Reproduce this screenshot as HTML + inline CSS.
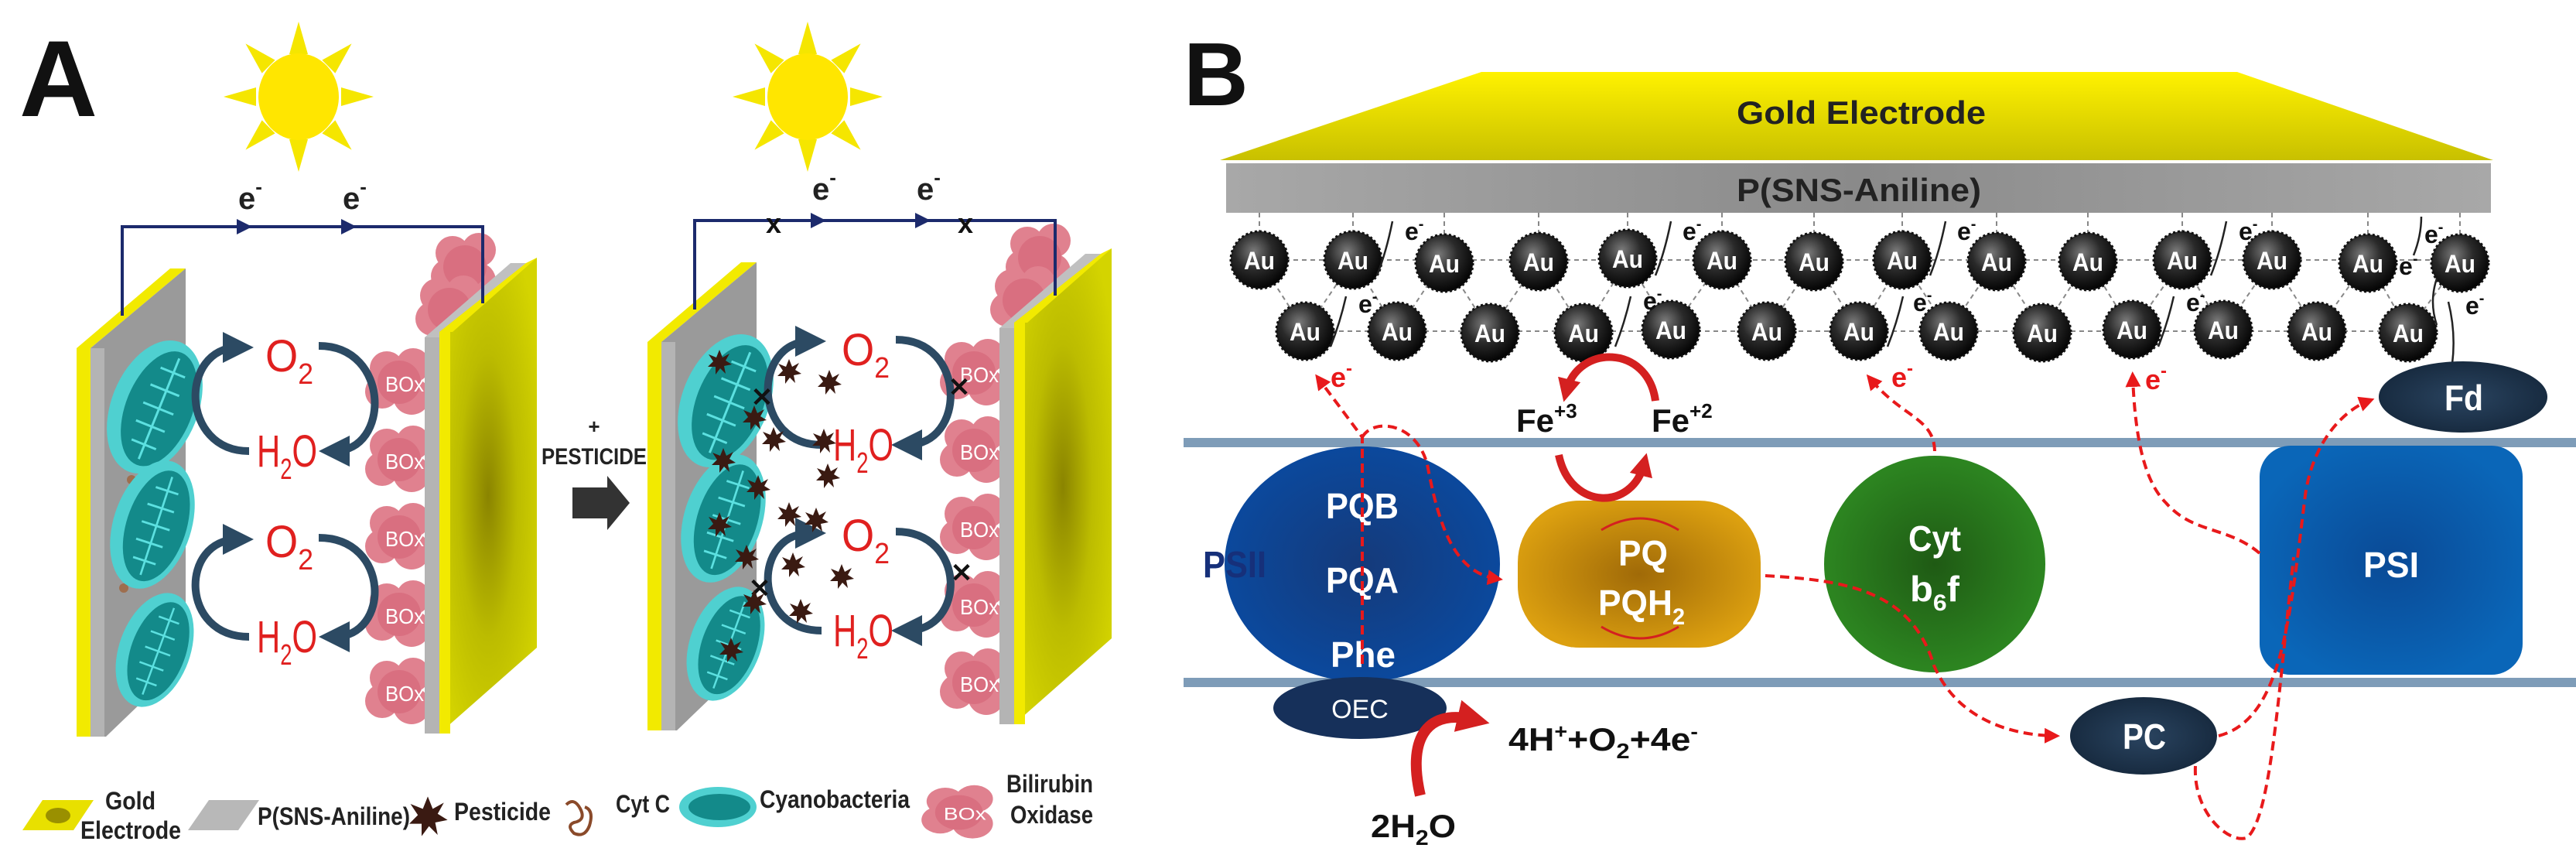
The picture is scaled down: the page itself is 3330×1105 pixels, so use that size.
<!DOCTYPE html>
<html><head><meta charset="utf-8"><style>
html,body{margin:0;padding:0;background:#fff;}
svg{display:block;}
.n{font-family:"Liberation Sans",sans-serif;font-weight:bold;}
</style></head><body>
<svg width="3330" height="1105" viewBox="0 0 3330 1105" xmlns="http://www.w3.org/2000/svg">
<defs>
<radialGradient id="gold" cx="50%" cy="50%" r="60%"><stop offset="0" stop-color="#8a8400"/><stop offset="0.5" stop-color="#bcbc00"/><stop offset="1" stop-color="#d4d400"/></radialGradient>
<linearGradient id="goldB" x1="0" y1="0" x2="0" y2="1"><stop offset="0" stop-color="#fff200"/><stop offset="1" stop-color="#c8c000"/></linearGradient>
<linearGradient id="greyB" x1="0" y1="0" x2="1" y2="0"><stop offset="0" stop-color="#a8a8a8"/><stop offset="0.5" stop-color="#8a8a8a"/><stop offset="1" stop-color="#a8a8a8"/></linearGradient>
<radialGradient id="au" cx="40%" cy="35%" r="65%"><stop offset="0" stop-color="#7a7a7a"/><stop offset="0.5" stop-color="#2a2a2a"/><stop offset="1" stop-color="#050505"/></radialGradient>
<radialGradient id="psii" cx="50%" cy="50%" r="55%"><stop offset="0" stop-color="#153a7a"/><stop offset="1" stop-color="#0a4aa0"/></radialGradient>
<radialGradient id="pq" cx="50%" cy="50%" r="55%"><stop offset="0" stop-color="#a06a08"/><stop offset="1" stop-color="#dca010"/></radialGradient>
<radialGradient id="cyt" cx="50%" cy="50%" r="55%"><stop offset="0" stop-color="#1f5a14"/><stop offset="1" stop-color="#2e8a22"/></radialGradient>
<radialGradient id="psi" cx="50%" cy="50%" r="55%"><stop offset="0" stop-color="#0a4a96"/><stop offset="1" stop-color="#0a66b8"/></radialGradient>
<radialGradient id="dk" cx="50%" cy="50%" r="60%"><stop offset="0" stop-color="#2a4460"/><stop offset="1" stop-color="#14263a"/></radialGradient>
<marker id="ah" markerWidth="4" markerHeight="4" refX="2" refY="2" orient="auto" markerUnits="strokeWidth"><path d="M0,0 L4,2 L0,4 z" fill="#2c4a63"/></marker>
<marker id="rh" markerWidth="5" markerHeight="5" refX="3" refY="2.5" orient="auto" markerUnits="strokeWidth"><path d="M0,0 L5,2.5 L0,5 z" fill="#e8191b"/></marker>
<marker id="rh2" markerWidth="3" markerHeight="3" refX="1.5" refY="1.5" orient="auto" markerUnits="strokeWidth"><path d="M0,0 L3,1.5 L0,3 z" fill="#d42020"/></marker>
<g id="sun"><g fill="#f5e600"><polygon points="-12,-55 12,-55 0,-97"/><polygon points="-12,55 12,55 0,97"/><polygon points="-55,-12 -55,12 -97,0"/><polygon points="55,-12 55,12 97,0"/><g transform="rotate(45)"><polygon points="-12,-55 12,-55 0,-97"/><polygon points="-12,55 12,55 0,97"/><polygon points="-55,-12 -55,12 -97,0"/><polygon points="55,-12 55,12 97,0"/></g></g><ellipse cx="0" cy="0" rx="52" ry="56" fill="#ffe600"/></g>
<g id="cb"><ellipse cx="0" cy="0" rx="56" ry="90" fill="#4fd0d0"/><ellipse cx="6" cy="0" rx="43" ry="78" fill="#138a8a"/><path d="M6,-70 v140 M-12,-50 h34 M-16,-25 h40 M-16,0 h42 M-16,25 h40 M-12,50 h34" stroke="#5ce0e0" stroke-width="3" fill="none"/></g>
<g id="cloud"><circle cx="-20" cy="-18" r="22" fill="#e0818f"/><circle cx="14" cy="-22" r="22" fill="#e0818f"/><circle cx="-26" cy="12" r="22" fill="#e0818f"/><circle cx="12" cy="18" r="24" fill="#e0818f"/><circle cx="-4" cy="0" r="28" fill="#d96f80"/></g>
<g id="box"><use href="#cloud"/><text x="-22" y="12" font-family="Liberation Sans,sans-serif" font-size="28" fill="#fff" textLength="50" lengthAdjust="spacingAndGlyphs">BOx</text></g>
<g id="pest"><polygon points="0,-16 4,-6 13,-11 8,-2 16,3 6,5 8,15 1,8 -5,16 -5,6 -15,6 -8,-1 -14,-10 -4,-6" fill="#3a1a12"/></g>
<g id="au1"><circle r="37" fill="url(#au)" stroke="#111" stroke-width="3" stroke-dasharray="3 3"/><text x="0" y="12" text-anchor="middle" class="n" font-size="32" fill="#fff" textLength="40" lengthAdjust="spacingAndGlyphs">Au</text></g>
<g id="labels" font-family="Liberation Sans,sans-serif" fill="#e0201f" font-size="58">
<text x="343" y="480" textLength="62" lengthAdjust="spacingAndGlyphs">O<tspan dy="16" font-size="38">2</tspan></text>
<text x="332" y="603" textLength="78" lengthAdjust="spacingAndGlyphs">H<tspan dy="16" font-size="38">2</tspan><tspan dy="-16">O</tspan></text>
<text x="343" y="720" textLength="62" lengthAdjust="spacingAndGlyphs">O<tspan dy="16" font-size="38">2</tspan></text>
<text x="332" y="843" textLength="78" lengthAdjust="spacingAndGlyphs">H<tspan dy="16" font-size="38">2</tspan><tspan dy="-16">O</tspan></text>
</g>
</defs>

<!-- Panel A -->
<text x="25" y="150" font-family="Liberation Sans,sans-serif" font-weight="bold" font-size="140" fill="#111">A</text>
<use href="#sun" x="386" y="125"/>
<use href="#sun" x="1044" y="125"/>

<g>
<polygon points="99,450 220,347 240,347 117,450" fill="#f2ea00"/>
<rect x="99" y="450" width="18" height="502" fill="#f2ea00"/>
<polygon points="117,450 240,347 240,853 137,952 117,952" fill="#9a9a9a"/>
<rect x="117" y="450" width="18" height="502" fill="#b4b4b4"/>
<g fill="#a0643c" opacity="0.8"><circle cx="170" cy="620" r="6"/><circle cx="200" cy="700" r="5"/><circle cx="160" cy="760" r="6"/><circle cx="215" cy="780" r="5"/><circle cx="175" cy="820" r="6"/><circle cx="160" cy="880" r="6"/><circle cx="190" cy="900" r="5"/><circle cx="225" cy="560" r="5"/><circle cx="160" cy="560" r="5"/></g>
</g>
<use href="#cb" transform="translate(200,526) rotate(22)"/>
<use href="#cb" transform="translate(197,678) rotate(18) scale(0.9,0.95)"/>
<use href="#cb" transform="translate(200,840) rotate(20) scale(0.82,0.85)"/>
<g><use href="#cloud" x="605" y="345" transform="scale(1)"/><use href="#cloud" x="585" y="400"/><use href="#box" x="520" y="494"/><use href="#box" x="520" y="594"/><use href="#box" x="520" y="694"/><use href="#box" x="520" y="794"/><use href="#box" x="520" y="894"/></g>
<polygon points="549,436 660,340 680,340 568,436" fill="#c0c0c0"/>
<rect x="549" y="436" width="19" height="512" fill="#b4b4b4"/>
<polygon points="568,429 694,333 694,837 568,948" fill="url(#gold)"/>
<polygon points="568,429 680,340 694,333 585,429" fill="#f2ea00"/>
<rect x="568" y="429" width="14" height="519" fill="#f2ea00"/>
<polyline points="158,408 158,293 624,293 624,392" fill="none" stroke="#1c2a6c" stroke-width="4"/>
<polygon points="306,283 306,303 326,293" fill="#1c2a6c"/><polygon points="441,283 441,303 461,293" fill="#1c2a6c"/>
<text x="308" y="270" class="n" font-size="40" fill="#222">e<tspan dy="-20" font-size="26">-</tspan></text>
<text x="443" y="270" class="n" font-size="40" fill="#222">e<tspan dy="-20" font-size="26">-</tspan></text>
<g fill="none" stroke="#2c4a63" stroke-width="10">
<path d="M322,583 C232,583 232,449 308,449" marker-end="url(#ah)"/>
<path d="M412,447 C505,447 505,583 432,583" marker-end="url(#ah)"/>
<path d="M322,823 C232,823 232,697 308,697" marker-end="url(#ah)"/>
<path d="M412,695 C505,695 505,823 432,823" marker-end="url(#ah)"/>
</g>
<use href="#labels"/>

<text x="768" y="560" text-anchor="middle" class="n" font-size="26" fill="#222">+</text>
<text x="700" y="600" class="n" font-size="30" fill="#222" textLength="136" lengthAdjust="spacingAndGlyphs">PESTICIDE</text>
<polygon points="740,630 785,630 785,615 814,650 785,685 785,670 740,670" fill="#333"/>

<g transform="translate(738,-8)">
<polygon points="99,450 220,347 240,347 117,450" fill="#f2ea00"/>
<rect x="99" y="450" width="18" height="502" fill="#f2ea00"/>
<polygon points="117,450 240,347 240,853 137,952 117,952" fill="#9a9a9a"/>
<rect x="117" y="450" width="18" height="502" fill="#b4b4b4"/>
<use href="#cb" transform="translate(200,526) rotate(22)"/>
<use href="#cb" transform="translate(197,678) rotate(18) scale(0.9,0.95)"/>
<use href="#cb" transform="translate(200,840) rotate(20) scale(0.82,0.85)"/>
</g>
<g transform="translate(743,-12)">
<use href="#cloud" x="605" y="345"/><use href="#cloud" x="585" y="400"/>
<use href="#box" x="520" y="494"/><use href="#box" x="520" y="594"/><use href="#box" x="520" y="694"/><use href="#box" x="520" y="794"/><use href="#box" x="520" y="894"/>
<polygon points="549,436 660,340 680,340 568,436" fill="#c0c0c0"/>
<rect x="549" y="436" width="19" height="512" fill="#b4b4b4"/>
<polygon points="568,429 694,333 694,837 568,948" fill="url(#gold)"/>
<polygon points="568,429 680,340 694,333 585,429" fill="#f2ea00"/>
<rect x="568" y="429" width="14" height="519" fill="#f2ea00"/>
</g>
<polyline points="898,400 898,285 1364,285 1364,382" fill="none" stroke="#1c2a6c" stroke-width="4"/>
<polygon points="1048,275 1048,295 1068,285" fill="#1c2a6c"/><polygon points="1183,275 1183,295 1203,285" fill="#1c2a6c"/>
<text x="1050" y="258" class="n" font-size="40" fill="#222">e<tspan dy="-20" font-size="26">-</tspan></text>
<text x="1185" y="258" class="n" font-size="40" fill="#222">e<tspan dy="-20" font-size="26">-</tspan></text>
<text x="1000" y="301" text-anchor="middle" class="n" font-size="36" fill="#111">x</text>
<text x="1248" y="301" text-anchor="middle" class="n" font-size="36" fill="#111">x</text>
<g fill="none" stroke="#2c4a63" stroke-width="10">
<path d="M1062,575 C972,575 972,441 1048,441" marker-end="url(#ah)"/>
<path d="M1158,439 C1250,439 1250,575 1172,575" marker-end="url(#ah)"/>
<path d="M1062,815 C972,815 972,689 1048,689" marker-end="url(#ah)"/>
<path d="M1158,687 C1250,687 1250,815 1172,815" marker-end="url(#ah)"/>
</g>
<use href="#labels" x="745" y="-8"/>
<g font-family="Liberation Sans,sans-serif" font-weight="bold" font-size="34" fill="#111" text-anchor="middle">
<text x="985" y="525">✕</text><text x="1240" y="512">✕</text><text x="982" y="772">✕</text><text x="1243" y="752">✕</text>
</g>
<g><use href="#pest" x="930" y="468"/><use href="#pest" x="1020" y="480"/><use href="#pest" x="1072" y="494"/><use href="#pest" x="975" y="540"/><use href="#pest" x="1000" y="568"/><use href="#pest" x="1065" y="570"/><use href="#pest" x="935" y="595"/><use href="#pest" x="980" y="630"/><use href="#pest" x="1070" y="615"/><use href="#pest" x="1020" y="665"/><use href="#pest" x="1055" y="672"/><use href="#pest" x="930" y="678"/><use href="#pest" x="965" y="720"/><use href="#pest" x="1025" y="730"/><use href="#pest" x="1088" y="745"/><use href="#pest" x="975" y="778"/><use href="#pest" x="1035" y="790"/><use href="#pest" x="945" y="840"/></g>

<!-- legend A -->
<polygon points="55,1034 121,1034 95,1073 29,1073" fill="#e8e000"/>
<ellipse cx="75" cy="1054" rx="16" ry="10" fill="#9a9000"/>
<g class="n" font-size="32" fill="#222">
<text x="136" y="1046" textLength="65" lengthAdjust="spacingAndGlyphs">Gold</text>
<text x="104" y="1084" textLength="130" lengthAdjust="spacingAndGlyphs">Electrode</text>
<text x="333" y="1066" textLength="197" lengthAdjust="spacingAndGlyphs">P(SNS-Aniline)</text>
<text x="587" y="1060" textLength="125" lengthAdjust="spacingAndGlyphs">Pesticide</text>
<text x="796" y="1050" textLength="70" lengthAdjust="spacingAndGlyphs">Cyt C</text>
<text x="982" y="1044" textLength="194" lengthAdjust="spacingAndGlyphs">Cyanobacteria</text>
<text x="1301" y="1024" textLength="112" lengthAdjust="spacingAndGlyphs">Bilirubin</text>
<text x="1306" y="1064" textLength="107" lengthAdjust="spacingAndGlyphs">Oxidase</text>
</g>
<polygon points="270,1034 335,1034 308,1073 243,1073" fill="#b8b8b8"/>
<use href="#pest" transform="translate(553,1055) scale(1.6)"/>
<g stroke="#8a4a2a" stroke-width="4" fill="none"><path d="M732,1040 q10,-10 18,5 q8,15 -8,18 q-10,4 0,14 q14,6 20,-10 q6,-20 -6,-24"/></g>
<ellipse cx="928" cy="1043" rx="50" ry="26" fill="#4fd0d0"/><ellipse cx="930" cy="1043" rx="40" ry="17" fill="#138a8a"/>
<use href="#box" transform="translate(1244,1050) scale(1.1,0.8)"/>

<!-- Panel B -->
<text x="1530" y="136" font-family="Liberation Sans,sans-serif" font-weight="bold" font-size="116" fill="#111">B</text>
<polygon points="1915,93 2892,93 3223,207 1577,207" fill="url(#goldB)"/>
<text x="2245" y="160" class="n" font-size="42" fill="#222" textLength="322" lengthAdjust="spacingAndGlyphs">Gold Electrode</text>
<rect x="1585" y="211" width="1635" height="64" fill="url(#greyB)"/>
<text x="2245" y="260" class="n" font-size="42" fill="#222" textLength="316" lengthAdjust="spacingAndGlyphs">P(SNS-Aniline)</text>
<rect x="1530" y="566" width="1800" height="12" fill="#7e9cb8"/>
<rect x="1530" y="876" width="1800" height="12" fill="#7e9cb8"/>
<g stroke="#888" stroke-width="2" stroke-dasharray="6 5" fill="none">
<line x1="1628" y1="336" x2="3180" y2="336"/><line x1="1687" y1="428" x2="3113" y2="428"/>
<path d="M1628,336 L1687,428 L1749,336 L1806,428 L1867,336 L1926,428 L1989,336 L2047,428 L2104,336 L2160,428 L2226,336 L2284,428 L2345,336 L2403,428 L2459,336 L2519,428 L2581,336 L2640,428 L2699,336 L2756,428 L2821,336 L2874,428 L2937,336 L2995,428 L3061,336 L3113,428 L3180,336"/>
<path d="M1628,275 v30 M1749,275 v30 M1867,275 v30 M1989,275 v30 M2104,275 v30 M2226,275 v30 M2345,275 v30 M2459,275 v30 M2581,275 v30 M2699,275 v30 M2821,275 v30 M2937,275 v30 M3061,275 v30 M3180,275 v30"/>
</g>
<g>
<use href="#au1" x="1628" y="336"/><use href="#au1" x="1749" y="336"/><use href="#au1" x="1867" y="340"/><use href="#au1" x="1989" y="338"/><use href="#au1" x="2104" y="334"/><use href="#au1" x="2226" y="336"/><use href="#au1" x="2345" y="338"/><use href="#au1" x="2459" y="336"/><use href="#au1" x="2581" y="338"/><use href="#au1" x="2699" y="338"/><use href="#au1" x="2821" y="336"/><use href="#au1" x="2937" y="336"/><use href="#au1" x="3061" y="340"/><use href="#au1" x="3180" y="340"/>
<use href="#au1" x="1687" y="428"/><use href="#au1" x="1806" y="428"/><use href="#au1" x="1926" y="430"/><use href="#au1" x="2047" y="430"/><use href="#au1" x="2160" y="426"/><use href="#au1" x="2284" y="428"/><use href="#au1" x="2403" y="428"/><use href="#au1" x="2519" y="428"/><use href="#au1" x="2640" y="430"/><use href="#au1" x="2756" y="426"/><use href="#au1" x="2874" y="426"/><use href="#au1" x="2995" y="428"/><use href="#au1" x="3113" y="430"/>
</g>
<g class="n" font-size="32" fill="#111">
<text x="1816" y="310">e<tspan dy="-14" font-size="20">-</tspan></text><text x="2175" y="310">e<tspan dy="-14" font-size="20">-</tspan></text><text x="2530" y="310">e<tspan dy="-14" font-size="20">-</tspan></text><text x="2894" y="310">e<tspan dy="-14" font-size="20">-</tspan></text><text x="3134" y="314">e<tspan dy="-14" font-size="20">-</tspan></text><text x="3101" y="355">e<tspan dy="-14" font-size="20">-</tspan></text>
<text x="1756" y="404">e<tspan dy="-14" font-size="20">-</tspan></text><text x="2124" y="400">e<tspan dy="-14" font-size="20">-</tspan></text><text x="2473" y="402">e<tspan dy="-14" font-size="20">-</tspan></text><text x="2826" y="402">e<tspan dy="-14" font-size="20">-</tspan></text><text x="3187" y="406">e<tspan dy="-14" font-size="20">-</tspan></text>
</g>
<g stroke="#222" stroke-width="2.5" fill="none">
<path d="M1780,356 q12,-30 20,-70"/><path d="M2140,356 q12,-30 20,-70"/><path d="M2495,356 q12,-30 20,-70"/><path d="M2858,356 q12,-30 20,-70"/><path d="M3120,330 q10,-25 10,-50"/>
<path d="M1720,448 q12,-30 20,-65"/><path d="M2088,448 q12,-30 20,-65"/><path d="M2440,448 q12,-30 20,-65"/><path d="M2790,448 q12,-30 20,-65"/><path d="M3170,470 q5,-40 -5,-80"/><path d="M3150,420 q-10,-30 0,-60"/>
</g>
<ellipse cx="1761" cy="729" rx="178" ry="152" fill="url(#psii)"/>
<ellipse cx="1758" cy="915" rx="112" ry="40" fill="#16305a"/>
<text x="1758" y="928" text-anchor="middle" font-family="Liberation Sans,sans-serif" font-size="34" fill="#fff">OEC</text>
<g class="n" font-size="46" fill="#fff">
<text x="1714" y="670" textLength="94" lengthAdjust="spacingAndGlyphs">PQB</text><text x="1714" y="766" textLength="94" lengthAdjust="spacingAndGlyphs">PQA</text><text x="1720" y="862" textLength="84" lengthAdjust="spacingAndGlyphs">Phe</text>
</g>
<text x="1555" y="746" class="n" font-size="48" fill="#16307a" textLength="82" lengthAdjust="spacingAndGlyphs">PSII</text>
<rect x="1962" y="647" width="314" height="190" rx="80" fill="url(#pq)"/>
<g class="n" font-size="46" fill="#fff"><text x="2092" y="731" textLength="64" lengthAdjust="spacingAndGlyphs">PQ</text><text x="2066" y="795" textLength="112" lengthAdjust="spacingAndGlyphs">PQH<tspan dy="12" font-size="30">2</tspan></text></g>
<path d="M2070,685 q50,-30 100,0 M2070,810 q50,30 100,0" stroke="#d42020" stroke-width="3" fill="none"/>
<ellipse cx="2501" cy="729" rx="143" ry="140" fill="url(#cyt)"/>
<g class="n" font-size="46" fill="#fff"><text x="2467" y="712" textLength="68" lengthAdjust="spacingAndGlyphs">Cyt</text><text x="2469" y="777" textLength="64" lengthAdjust="spacingAndGlyphs">b<tspan dy="12" font-size="30">6</tspan><tspan dy="-12">f</tspan></text></g>
<rect x="2921" y="576" width="340" height="296" rx="40" fill="url(#psi)"/>
<text x="3055" y="746" class="n" font-size="46" fill="#fff" textLength="72" lengthAdjust="spacingAndGlyphs">PSI</text>
<ellipse cx="3184" cy="513" rx="109" ry="46" fill="url(#dk)"/>
<text x="3160" y="530" class="n" font-size="46" fill="#fff" textLength="50" lengthAdjust="spacingAndGlyphs">Fd</text>
<ellipse cx="2771" cy="951" rx="95" ry="50" fill="url(#dk)"/>
<text x="2744" y="968" class="n" font-size="46" fill="#fff" textLength="56" lengthAdjust="spacingAndGlyphs">PC</text>
<text x="1960" y="558" class="n" font-size="42" fill="#111">Fe<tspan dy="-18" font-size="26">+3</tspan></text>
<text x="2135" y="558" class="n" font-size="42" fill="#111">Fe<tspan dy="-18" font-size="26">+2</tspan></text>
<g fill="none" stroke="#d42020" stroke-width="10">
<path d="M2140,518 C2130,445 2040,445 2025,505" marker-end="url(#rh2)"/>
<path d="M2015,588 C2030,660 2110,660 2125,600" marker-end="url(#rh2)"/>
<path d="M1836,1028 C1820,960 1840,915 1905,930" stroke-width="14" marker-end="url(#rh2)"/>
</g>
<text x="1950" y="970" class="n" font-size="42" fill="#111" textLength="245" lengthAdjust="spacingAndGlyphs">4H<tspan dy="-16" font-size="26">+</tspan><tspan dy="16">+O</tspan><tspan dy="10" font-size="28">2</tspan><tspan dy="-10">+4e</tspan><tspan dy="-16" font-size="26">-</tspan></text>
<text x="1772" y="1082" class="n" font-size="42" fill="#111" textLength="110" lengthAdjust="spacingAndGlyphs">2H<tspan dy="10" font-size="28">2</tspan><tspan dy="-10">O</tspan></text>
<g fill="none" stroke="#e8191b" stroke-width="4" stroke-dasharray="12 7">
<path d="M1761,858 L1761,565 L1705,490" marker-end="url(#rh)"/>
<path d="M1761,565 C1775,540 1830,545 1845,600 C1860,680 1880,740 1935,748" marker-end="url(#rh)"/>
<path d="M2282,744 C2380,750 2470,760 2500,860 C2530,930 2600,950 2655,951" marker-end="url(#rh)"/>
<path d="M2501,583 C2500,540 2460,540 2418,490" marker-end="url(#rh)"/>
<path d="M2921,715 C2880,680 2835,690 2800,650 C2770,620 2760,560 2757,488" marker-end="url(#rh)"/>
<path d="M2868,951 C2950,930 2960,800 2980,640 C2990,570 3030,530 3062,518" marker-end="url(#rh)"/>
<path d="M2838,990 C2835,1050 2880,1090 2904,1083 C2935,1060 2945,900 2965,720"/>
</g>
<g class="n" font-size="36" fill="#e8191b">
<text x="1720" y="500">e<tspan dy="-16" font-size="24">-</tspan></text>
<text x="2445" y="500">e<tspan dy="-16" font-size="24">-</tspan></text>
<text x="2773" y="503">e<tspan dy="-16" font-size="24">-</tspan></text>
</g>
</svg>
</body></html>
